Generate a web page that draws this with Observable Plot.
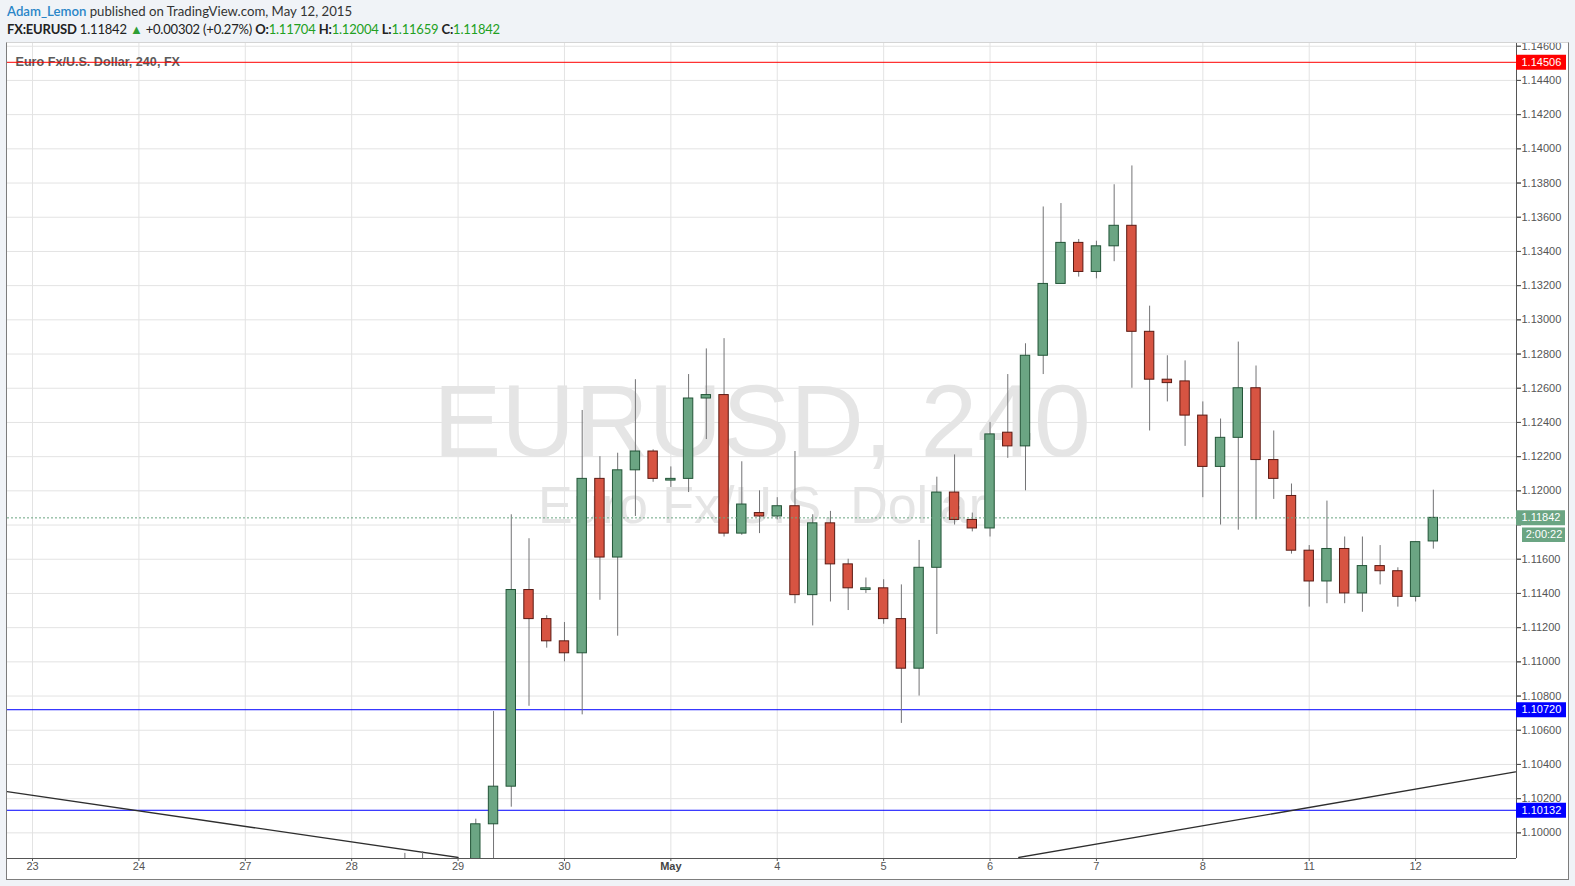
<!DOCTYPE html>
<html>
<head>
<meta charset="utf-8">
<script src="https://cdn.jsdelivr.net/npm/d3@7"></script>
<script src="https://cdn.jsdelivr.net/npm/@observablehq/plot@0.6"></script>
<style>
  html, body { margin: 0; padding: 0; }
  body { width: 1575px; height: 886px; background: #f0f3f7; position: relative; overflow: hidden; font-family: Lato, "Open Sans", sans-serif; }
  #h1 { position: absolute; left: 7px; top: 3px; font-size: 13.2px; color: #333; white-space: nowrap; }
  #h1 .user { color: #2a86c8; font-weight: 600; }
  #h2 { position: absolute; left: 7px; top: 21px; font-size: 13px; letter-spacing: -0.2px; color: #222; white-space: nowrap; }
  #h2 b { font-weight: 700; }
  #h2 .g { color: #22a022; }
  #chart { position: absolute; left: 6px; top: 42px; width: 1563px; height: 838px; background: #fff; overflow: hidden; }
  #chart svg { display: block; }
  #frame { position: absolute; left: 6px; top: 42px; width: 1561px; height: 836px; border: 1px solid #7d7d7d; border-top-color: #d4d4d4; pointer-events: none; }
</style>
</head>
<body>
<div id="h1"></div>
<div id="h2"></div>
<div id="chart"></div>
<div id="frame"></div>
<script>
// ---------------- data ----------------
const symbol = "FX:EURUSD";
const author = "Adam_Lemon";
const publishedText = "published on TradingView.com, May 12, 2015";
const lastChange = "+0.00302 (+0.27%)";
const headerLabels = ["O:", "H:", "L:", "C:"];
const headerValues = ["1.11704", "1.12004", "1.11659", "1.11842"];
const seriesTitle = "Euro Fx/U.S. Dollar, 240, FX";
const watermark1 = "EURUSD, 240";
const watermark2 = "Euro Fx/U.S. Dollar";

// day starts (4-hour bar index) and their labels
const dayStarts = [0, 6, 12, 18, 24, 30, 36, 42, 48, 54, 60, 66, 72, 78];
const dayLabels = ["23", "24", "27", "28", "29", "30", "May", "4", "5", "6", "7", "8", "11", "12"];

// price ticks (grid) and the ones that carry a label on the scale
const yTicks = [1.100, 1.102, 1.104, 1.106, 1.108, 1.110, 1.112, 1.114, 1.116, 1.118, 1.120, 1.122,
                1.124, 1.126, 1.128, 1.130, 1.132, 1.134, 1.136, 1.138, 1.140, 1.142, 1.144, 1.146];
const yHiddenLabels = [1.118];

// 4H candles (bar index, open, high, low, close)
const barIdx = [21, 22, 25, 26, 27, 28, 29, 30, 31, 32, 33, 34, 35, 36, 37, 38, 39, 40, 41, 42,
                43, 44, 45, 46, 47, 48, 49, 50, 51, 52, 53, 54, 55, 56, 57, 58, 59, 60, 61, 62,
                63, 64, 65, 66, 67, 68, 69, 70, 71, 72, 73, 74, 75, 76, 77, 78, 79];
const opens  = [1.0975, 1.0972, 1.0978, 1.1005, 1.1027, 1.1142, 1.1125, 1.1112, 1.1105, 1.1207,
                1.1161, 1.1212, 1.1223, 1.1206, 1.1207, 1.1254, 1.1256, 1.1175, 1.1187, 1.1185,
                1.1191, 1.1139, 1.1181, 1.1157, 1.1142, 1.1143, 1.1125, 1.1096, 1.1155, 1.1199,
                1.1183, 1.1178, 1.1234, 1.1226, 1.1279, 1.1321, 1.1345, 1.1328, 1.1343, 1.1355,
                1.1293, 1.1265, 1.1264, 1.1244, 1.1214, 1.1231, 1.1260, 1.1218, 1.1197, 1.1165,
                1.1147, 1.1166, 1.1140, 1.1156, 1.1153, 1.1138, 1.11704];
const highs  = [1.0988, 1.0989, 1.1008, 1.1071, 1.1186, 1.1172, 1.1127, 1.1123, 1.1247, 1.1220,
                1.1222, 1.1265, 1.1224, 1.1214, 1.1268, 1.1283, 1.1289, 1.1217, 1.1200, 1.1196,
                1.1223, 1.1186, 1.1188, 1.1160, 1.1149, 1.1148, 1.1145, 1.1171, 1.1208, 1.1221,
                1.1187, 1.1240, 1.1268, 1.1286, 1.1366, 1.1368, 1.1347, 1.1346, 1.1379, 1.1390,
                1.1308, 1.1279, 1.1276, 1.1252, 1.1242, 1.1287, 1.1273, 1.1235, 1.1204, 1.1168,
                1.1194, 1.1173, 1.1173, 1.1168, 1.1155, 1.1170, 1.12004];
const lows   = [1.0965, 1.0966, 1.0970, 1.0984, 1.1015, 1.1074, 1.1108, 1.1100, 1.1069, 1.1136,
                1.1115, 1.1185, 1.1205, 1.1202, 1.1199, 1.1230, 1.1173, 1.1174, 1.1175, 1.1183,
                1.1134, 1.1121, 1.1135, 1.1130, 1.1140, 1.1122, 1.1064, 1.1080, 1.1116, 1.1180,
                1.1176, 1.1173, 1.1219, 1.1200, 1.1268, 1.1321, 1.1325, 1.1324, 1.1334, 1.1260,
                1.1235, 1.1252, 1.1226, 1.1196, 1.1180, 1.1177, 1.1183, 1.1195, 1.1163, 1.1132,
                1.1134, 1.1134, 1.1129, 1.1145, 1.1132, 1.1135, 1.11659];
const closes = [1.0970, 1.0970, 1.1005, 1.1027, 1.1142, 1.1125, 1.1112, 1.1105, 1.1207, 1.1161,
                1.1212, 1.1223, 1.1207, 1.1207, 1.1254, 1.1256, 1.1175, 1.1192, 1.1185, 1.1191,
                1.1139, 1.1181, 1.1157, 1.1143, 1.1143, 1.1125, 1.1096, 1.1155, 1.1199, 1.1183,
                1.1178, 1.1233, 1.1226, 1.1279, 1.1321, 1.1345, 1.1328, 1.1343, 1.1355, 1.1293,
                1.1265, 1.1263, 1.1244, 1.1214, 1.1231, 1.1260, 1.1218, 1.1207, 1.1165, 1.1147,
                1.1166, 1.1140, 1.1156, 1.1153, 1.1138, 1.1170, 1.11842];

// horizontal levels
const levelPrices = [1.14506, 1.10720, 1.10132];
const levelColors = ["#ff0000", "#0000ff", "#0000ff"];
const lastPrice = 1.11842;
const countdown = "2:00:22";

// trend lines (bar index, price)
const trendDownIdx = [-1.43, 24.0];
const trendDownPrice = [1.10241, 1.09856];
const trendUpIdx = [55.62, 83.63];
const trendUpPrice = [1.09856, 1.10356];

// ---------------- header ----------------
document.getElementById("h1").innerHTML = `<span class="user">${author}</span> ${publishedText}`;
document.getElementById("h2").innerHTML =
  `<b>${symbol}</b> ${headerValues[3]} <span style="color:#2e9e35">&#9650;</span> ${lastChange} ` +
  headerLabels.map((l, k) => `<b>${l}</b><span class="g">${headerValues[k]}</span>`).join(" ");

// ---------------- chart ----------------
const candles = barIdx.map((i, k) => ({i, o: opens[k], h: highs[k], l: lows[k], c: closes[k], up: closes[k] >= opens[k]}));
const levels = levelPrices.map((p, k) => ({p, c: levelColors[k]}));
const trendDown = trendDownIdx.map((i, k) => ({i, p: trendDownPrice[k]}));
const trendUp = trendUpIdx.map((i, k) => ({i, p: trendUpPrice[k]}));
const dayLabelOf = new Map(dayStarts.map((d, k) => [d, dayLabels[k]]));
const yLabelTicks = yTicks.filter(t => !yHiddenLabels.includes(t));

const X_MIN = -1.41, X_MAX = 83.69, Y_MIN = 1.0985, Y_MAX = 1.14616;
const W = 1563, H = 838, ML = 1, MR = 53, MT = 1, MB = 22;
const pxPerBar = (W - ML - MR) / (X_MAX - X_MIN);
const HW = 0.265;
const GREEN = "#6ba583", GREEN_D = "#225437", RED = "#d75442", RED_D = "#5b1a13";
const monthStarts = dayStarts.filter(d => dayLabelOf.get(d) === "May");
const plainStarts = dayStarts.filter(d => dayLabelOf.get(d) !== "May");

const chart = Plot.plot({
  width: W, height: H,
  marginLeft: ML, marginRight: MR, marginTop: MT, marginBottom: MB,
  x: {domain: [X_MIN, X_MAX], axis: null, label: null},
  y: {domain: [Y_MIN, Y_MAX], axis: null, label: null},
  style: {background: "transparent", fontFamily: "'Liberation Sans', Arial, sans-serif", color: "#555", overflow: "hidden"},
  marks: [
    // grid
    Plot.ruleX(dayStarts, {stroke: "#e3e3e3"}),
    Plot.ruleY(yTicks, {stroke: "#e3e3e3"}),
    // watermark
    Plot.text([watermark1], {text: d => d, frameAnchor: "middle", lineAnchor: "middle", dy: -28, fontSize: 102, fill: "#e5e5e5"}),
    Plot.text([watermark2], {text: d => d, frameAnchor: "middle", lineAnchor: "middle", dy: 55, fontSize: 52, fill: "#e5e5e5"}),
    // series title
    Plot.text([seriesTitle], {text: d => d, frameAnchor: "top-left", textAnchor: "start", lineAnchor: "middle", dx: 8, dy: 18, fontSize: 12.6, fontWeight: 600, fill: "#5a5a5a"}),
    // horizontal levels
    Plot.ruleY(levels, {y: "p", stroke: "c", strokeWidth: 1}),
    // trend lines
    Plot.line(trendDown, {x: "i", y: "p", stroke: "#2e2e2e", strokeWidth: 1.3, clip: "frame"}),
    Plot.line(trendUp, {x: "i", y: "p", stroke: "#2e2e2e", strokeWidth: 1.3, clip: "frame"}),
    // candles
    Plot.ruleX(candles, {x: "i", y1: "l", y2: "h", stroke: "#737375", strokeWidth: 1, clip: "frame"}),
    Plot.rect(candles, {x1: d => d.i - HW, x2: d => d.i + HW, y1: "o", y2: "c",
      fill: d => d.up ? GREEN : RED, stroke: d => d.up ? GREEN_D : RED_D, strokeWidth: 1, clip: "frame"}),
    // last price line
    Plot.ruleY([lastPrice], {stroke: GREEN, strokeDasharray: "2,2", strokeWidth: 1}),
    // axes
    Plot.axisY(yTicks, {anchor: "right", label: null, tickFormat: () => "", tickSize: 4, stroke: "#555"}),
    Plot.axisY(yLabelTicks, {anchor: "right", label: null, tickFormat: d3.format(".5f"), tickSize: 4, tickPadding: 1, fontSize: 11, fill: "#555", stroke: "#555"}),
    Plot.axisX(plainStarts, {anchor: "bottom", label: null, tickFormat: d => dayLabelOf.get(d), tickSize: 3, tickPadding: 1, fontSize: 11, fill: "#555", stroke: "#555"}),
    Plot.axisX(monthStarts, {anchor: "bottom", label: null, tickFormat: d => dayLabelOf.get(d), tickSize: 3, tickPadding: 1, fontSize: 11, fontWeight: "bold", fill: "#444", stroke: "#555"}),
    // plot frame
    Plot.ruleX([X_MAX], {stroke: "#555"}),
    Plot.ruleY([Y_MIN], {stroke: "#555"}),
    // price labels on the scale
    Plot.ruleY(levels, {y: "p", x1: X_MAX, x2: X_MAX + 50 / pxPerBar, stroke: "c", strokeWidth: 15}),
    Plot.text(levels, {y: "p", x: X_MAX, text: d => d3.format(".5f")(d.p), textAnchor: "start", dx: 5, fontSize: 11, fill: "#fff"}),
    Plot.ruleY([lastPrice], {x1: X_MAX, x2: X_MAX + 49 / pxPerBar, stroke: GREEN, strokeWidth: 15}),
    Plot.text([lastPrice], {y: d => d, x: X_MAX, text: d => d3.format(".5f")(d), textAnchor: "start", dx: 5, fontSize: 11, fill: "#fff"}),
    Plot.ruleY([lastPrice], {x1: X_MAX + 6 / pxPerBar, x2: X_MAX + 49 / pxPerBar, dy: 17, stroke: GREEN, strokeWidth: 14.5}),
    Plot.text([lastPrice], {y: d => d, x: X_MAX + 27.5 / pxPerBar, dy: 17, text: () => countdown, textAnchor: "middle", fontSize: 11, fill: "#fff"})
  ]
});
document.getElementById("chart").appendChild(chart);
</script>
</body>
</html>
